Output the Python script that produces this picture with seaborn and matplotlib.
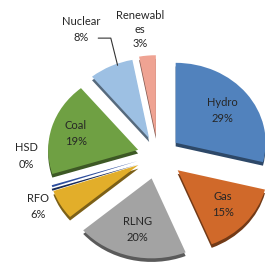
import numpy as np
import matplotlib
matplotlib.use("Agg")
import matplotlib.pyplot as plt
import matplotlib.colors as mcolors
import seaborn as sns

# ---- data ----
categories = ["Hydro", "Gas", "RLNG", "RFO", "HSD", "Coal", "Nuclear", "Renewables"]
label_names = ["Hydro", "Gas", "RLNG", "RFO", "HSD", "Coal", "Nuclear", "Renewabl\nes"]
shares = [29, 15, 20, 6, 0.4, 19, 8, 3]
pct_labels = ["29%", "15%", "20%", "6%", "0%", "19%", "8%", "3%"]

# ---- style ----
sns.set_theme(style="white")
plt.rcParams["font.family"] = ["Lato", "DejaVu Sans"]
colors = ["#5182BD", "#D0692A", "#A3A3A3", "#E2AE2A", "#2D4E9E", "#6FA043", "#9DC0E3", "#EFA393"]
explode = [0.25, 0.29, 0.30, 0.25, 0.24, 0.23, 0.23, 0.25]
inside = [True, True, True, False, False, True, False, False]
# outside label layout: (radius, angle deg, linespacing)
outside_pos = {3: (1.48, -154.4, 1.6), 4: (1.46, 180.5, 1.6),
               6: (1.79, 118.5, 1.6), 7: (1.58, 97.3, 1.35)}

fig = plt.figure(figsize=(2.65, 2.69), dpi=100)
ax = fig.add_axes([0, 0, 1, 1])

dark = [tuple(c * 0.55 for c in mcolors.to_rgb(col)) for col in colors]
# 3D rim (shadow) pie
ax.pie(shares, colors=dark, explode=explode, startangle=90, counterclock=False,
       center=(0, -0.045), wedgeprops=dict(linewidth=0))
wedges, _ = ax.pie(shares, colors=colors, explode=explode, startangle=90,
                   counterclock=False, wedgeprops=dict(linewidth=0))

ax.set_aspect("auto")
ax.set_xlim(-1.756, 1.19)
ax.set_ylim(-1.425, 1.94)
ax.axis("off")

txtcol = "#262626"
fs = 8
for i, w in enumerate(wedges):
    mid = np.deg2rad((w.theta1 + w.theta2) / 2)
    cx, cy = w.center
    text = f"{label_names[i]}\n{pct_labels[i]}"
    if inside[i]:
        d = 0.66 if categories[i] != "Coal" else 0.72
        ax.text(cx + d * np.cos(mid), cy + d * np.sin(mid), text, ha="center", va="center",
                fontsize=fs, color=txtcol, linespacing=1.6)
    else:
        r, a, ls = outside_pos[i]
        a = np.deg2rad(a)
        x, y = r * np.cos(a), r * np.sin(a)
        ax.text(x, y, text, ha="center", va="center", fontsize=fs, color=txtcol,
                linespacing=ls)
        if categories[i] == "Nuclear":
            ex = cx + 0.98 * np.cos(np.deg2rad(111))
            ey = cy + 0.98 * np.sin(np.deg2rad(111))
            ax.plot([x + 0.19, x + 0.33, ex], [y - 0.11, y - 0.11, ey],
                    color="#333333", lw=0.8)

fig.savefig("out.png", dpi=100)
